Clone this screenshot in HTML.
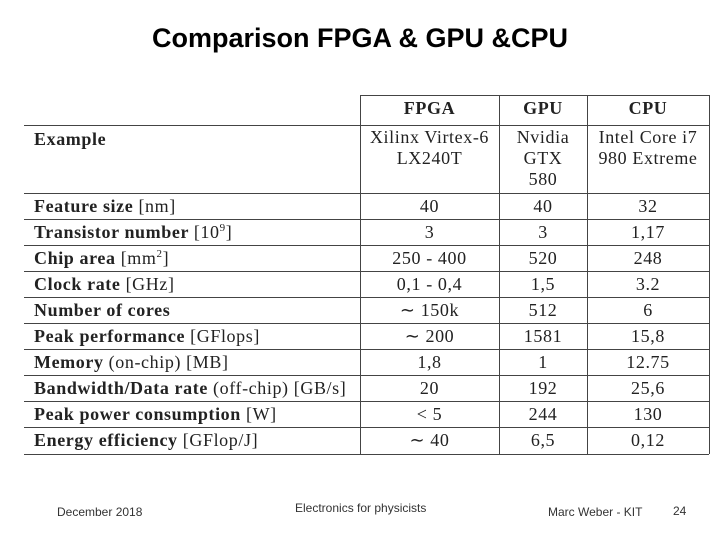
<!DOCTYPE html>
<html><head><meta charset="utf-8"><style>
body{margin:0;width:720px;height:540px;background:#fff;position:relative;overflow:hidden;font-family:"Liberation Sans",sans-serif}
.a{position:absolute}
.h{position:absolute;height:1px;background:#444}
.v{position:absolute;width:1px;background:#444}
.t{position:absolute;font-family:"Liberation Serif",serif;font-size:18px;letter-spacing:0.6px;color:#222;white-space:nowrap;line-height:26px}
.t sup{font-size:11px;line-height:0}
.l{left:34px;font-weight:bold}
.l span{font-weight:normal}
.c{text-align:center}
.f{position:absolute;font-size:12px;color:#333}
</style></head><body>
<div class="a" style="left:0;width:720px;top:23px;text-align:center;font-size:27px;font-weight:bold;color:#000">Comparison FPGA &amp; GPU &amp;CPU</div>
<div>
<div class="h" style="left:361px;width:348px;top:95px"></div>
<div class="h" style="left:24px;width:685px;top:125px"></div>
<div class="h" style="left:24px;width:685px;top:193px"></div>
<div class="h" style="left:24px;width:685px;top:219px"></div>
<div class="h" style="left:24px;width:685px;top:245px"></div>
<div class="h" style="left:24px;width:685px;top:271px"></div>
<div class="h" style="left:24px;width:685px;top:297px"></div>
<div class="h" style="left:24px;width:685px;top:323px"></div>
<div class="h" style="left:24px;width:685px;top:349px"></div>
<div class="h" style="left:24px;width:685px;top:375px"></div>
<div class="h" style="left:24px;width:685px;top:401px"></div>
<div class="h" style="left:24px;width:685px;top:427px"></div>
<div class="h" style="left:24px;width:685px;top:454px"></div>
<div class="v" style="left:360px;top:95px;height:359px"></div>
<div class="v" style="left:499px;top:95px;height:359px"></div>
<div class="v" style="left:587px;top:95px;height:359px"></div>
<div class="v" style="left:709px;top:95px;height:359px"></div>
<div class="t c" style="left:360px;width:139px;top:95px;font-weight:bold">FPGA</div>
<div class="t c" style="left:499px;width:88px;top:95px;font-weight:bold">GPU</div>
<div class="t c" style="left:587px;width:122px;top:95px;font-weight:bold">CPU</div>
<div class="t l" style="top:126px">Example</div>
<div class="t c" style="left:360px;width:139px;top:127px;line-height:21px">Xilinx Virtex-6<br>LX240T</div>
<div class="t c" style="left:499px;width:88px;top:127px;line-height:21px">Nvidia<br>GTX<br>580</div>
<div class="t c" style="left:587px;width:122px;top:127px;line-height:21px">Intel Core i7<br>980 Extreme</div>
<div id="rows"></div>
</div>
<div class="f" style="left:57px;top:505px">December 2018</div>
<div class="f" style="left:295px;top:501px">Electronics for physicists</div>
<div class="f" style="left:548px;top:505px">Marc Weber - KIT</div>
<div class="f" style="left:673px;top:504px">24</div>
<script>
const labels=['Feature size <span>[nm]</span>','Transistor number <span>[10<sup>9</sup>]</span>','Chip area <span>[mm<sup>2</sup>]</span>','Clock rate <span>[GHz]</span>','Number of cores','Peak performance <span>[GFlops]</span>','Memory <span>(on-chip) [MB]</span>','Bandwidth/Data rate <span>(off-chip) [GB/s]</span>','Peak power consumption <span>[W]</span>','Energy efficiency <span>[GFlop/J]</span>'];
const fpga=['40','3','250 - 400','0,1 - 0,4','∼ 150k','∼ 200','1,8','20','&lt; 5','∼ 40'];
const gpu=['40','3','520','1,5','512','1581','1','192','244','6,5'];
const cpu=['32','1,17','248','3.2','6','15,8','12.75','25,6','130','0,12'];
const root=document.getElementById('rows');
labels.forEach((lab,i)=>{
  const top=193+i*26;
  const cells=[[lab,'t l',null,null],[fpga[i],'t c',360,139],[gpu[i],'t c',499,88],[cpu[i],'t c',587,122]];
  cells.forEach((c,j)=>{
    const d=document.createElement('div');
    d.className=c[1];
    d.style.top=top+'px';
    if(c[2]!==null){d.style.left=c[2]+'px';d.style.width=c[3]+'px';}
    d.innerHTML=c[0];
    
    
    root.appendChild(d);
  });
});
</script>
</body></html>
